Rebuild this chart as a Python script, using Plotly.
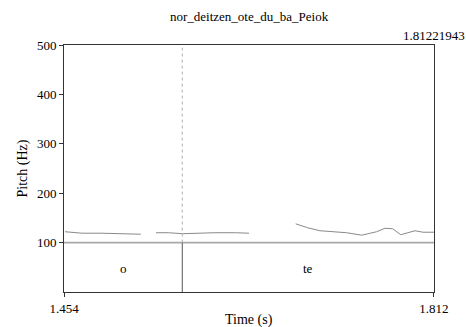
import plotly.graph_objects as go

title = "nor_deitzen_ote_du_ba_Peiok"
t_start = 1.454
t_end = 1.81221943
end_label = "1.81221943"
x_title = "Time (s)"
y_title = "Pitch (Hz)"

# Pitch contour (s, Hz); None separates voiced stretches
pitch_t = [1.455, 1.4714, 1.49, 1.51, 1.5283, None,
           1.5431, 1.555, 1.5689, 1.58, 1.60, 1.62, 1.6331, None,
           1.6783, 1.69, 1.7018, 1.715, 1.7277, 1.7422, 1.7567, 1.7648, 1.7722, 1.78, 1.7938, 1.8016, 1.8122]
pitch_hz = [122, 119, 119, 118, 117, None,
            120, 120, 118, 119, 120, 120, 119, None,
            138, 130, 124, 122, 120, 115, 122, 129, 128, 116, 124, 121, 121]

# TextGrid tier
tier_bounds = [1.454, 1.5685, 1.81221943]
tier_labels = ["o", "te"]

y_ticks = [100, 200, 300, 400, 500]
x_ticks = [1.454, 1.812]
x_tick_text = ["1.454", "1.812"]

font = "Liberation Serif, Times New Roman, Times, serif"

fig = go.Figure()
fig.add_trace(go.Scatter(x=pitch_t, y=pitch_hz, mode="lines",
                         line=dict(color="#8a8a8a", width=1),
                         connectgaps=False, hoverinfo="skip"))

shapes = []
# tier top line at 100 Hz
shapes.append(dict(type="line", xref="x", yref="y", x0=t_start, x1=t_end, y0=100, y1=100,
                   line=dict(color="#a8a8a8", width=1.6)))
# interval boundaries
for b in tier_bounds[1:-1]:
    shapes.append(dict(type="line", xref="x", yref="y", x0=b, x1=b, y0=0, y1=100,
                       line=dict(color="#555555", width=1)))
    shapes.append(dict(type="line", xref="x", yref="y", x0=b, x1=b, y0=100, y1=500,
                       line=dict(color="#b0b0b0", width=1, dash="dot")))

f13 = dict(family=font, size=13, color="black")
f14 = dict(family=font, size=14, color="black")
annotations = []
for i, lab in enumerate(tier_labels):
    annotations.append(dict(x=(tier_bounds[i] + tier_bounds[i + 1]) / 2, y=48, xref="x", yref="y",
                            text=lab, showarrow=False, font=f13))
annotations.append(dict(x=t_end, y=1.0, xref="x", yref="paper", yshift=10, text=end_label,
                        showarrow=False, xanchor="center", yanchor="middle", font=f13))
annotations.append(dict(x=0.5, y=1.0, xref="paper", yref="paper", yshift=29, text=title,
                        showarrow=False, xanchor="center", yanchor="middle", font=f13))
annotations.append(dict(x=0.5, y=0.0, xref="paper", yref="paper", yshift=-28, text=x_title,
                        showarrow=False, xanchor="center", yanchor="middle", font=f14))
annotations.append(dict(x=0.0, y=0.5, xref="paper", yref="paper", xshift=-42, yshift=0,
                        text=y_title, textangle=-90,
                        showarrow=False, xanchor="center", yanchor="middle", font=f14))

fig.update_layout(
    width=466, height=327,
    margin=dict(l=64, r=32, t=45, b=35),
    paper_bgcolor="white", plot_bgcolor="white",
    showlegend=False,
    font=f13,
    shapes=shapes, annotations=annotations,
    xaxis=dict(range=[t_start, t_end], tickvals=x_ticks, ticktext=x_tick_text,
               showgrid=False, zeroline=False, showline=True, mirror=True,
               linecolor="#333333", linewidth=1, ticks="outside", ticklen=4,
               tickcolor="#333333", tickfont=f13, automargin=False),
    yaxis=dict(range=[0, 500], tickvals=y_ticks, showgrid=False, zeroline=False,
               showline=True, mirror=True, linecolor="#333333", linewidth=1,
               ticks="outside", ticklen=4, tickcolor="#333333",
               tickfont=f13, automargin=False),
)

fig.write_html("out.html", config={"displayModeBar": False},
               post_script="document.body.style.margin='0px';")
